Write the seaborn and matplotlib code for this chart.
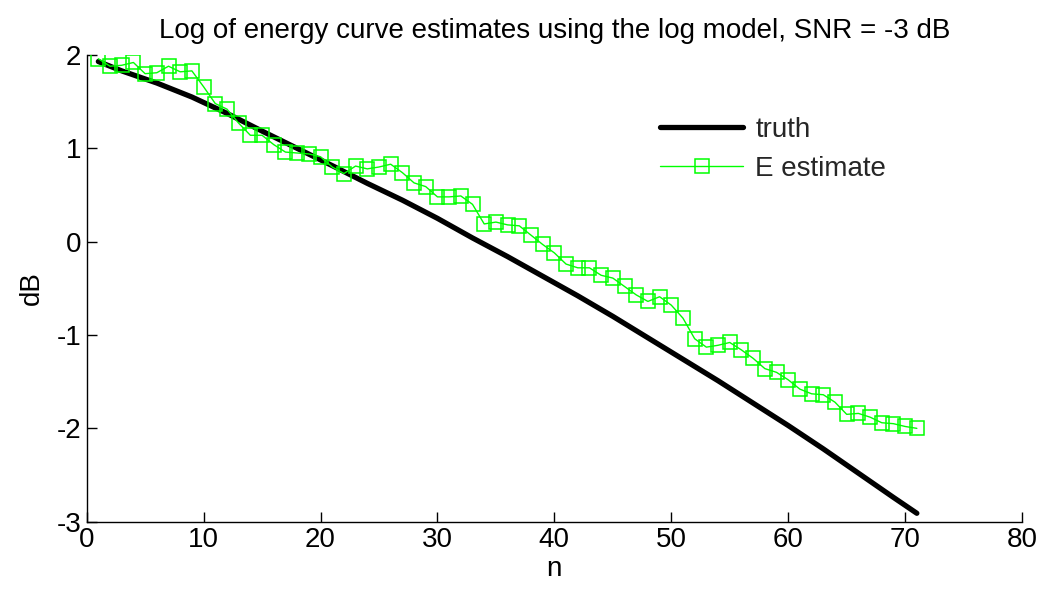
import numpy as np
import pandas as pd
import matplotlib
matplotlib.use("Agg")
import matplotlib.pyplot as plt
import seaborn as sns

# truth curve, read at a few n values
truth_n = [1, 3, 6, 9, 12, 15, 18, 21, 24, 27, 30, 33, 36, 39, 42, 45, 48,
           51, 54, 57, 60, 63, 66, 69, 71]
truth_db = [1.93, 1.83, 1.70, 1.55, 1.375, 1.185, 1.00, 0.815, 0.625, 0.445,
            0.25, 0.04, -0.16, -0.37, -0.58, -0.80, -1.03, -1.26, -1.49,
            -1.73, -1.97, -2.22, -2.48, -2.74, -2.91]

# E estimate, one value per n = 1..71
est_n = list(range(1, 72))
est_db = [1.96, 1.88, 1.89, 1.92, 1.80, 1.81, 1.88, 1.82, 1.83, 1.66,
          1.48, 1.42, 1.27, 1.14, 1.14, 1.04, 0.96, 0.95, 0.94, 0.91,
          0.80, 0.73, 0.81, 0.78, 0.80, 0.83, 0.74, 0.63, 0.59, 0.48,
          0.48, 0.49, 0.40, 0.19, 0.21, 0.18, 0.17, 0.07, -0.03, -0.12,
          -0.24, -0.28, -0.28, -0.36, -0.39, -0.48, -0.57, -0.64, -0.59, -0.68,
          -0.82, -1.04, -1.13, -1.11, -1.08, -1.16, -1.25, -1.36, -1.40, -1.48,
          -1.58, -1.63, -1.64, -1.72, -1.85, -1.84, -1.88, -1.94, -1.95, -1.98, -2.00]

x_ticks = [0, 10, 20, 30, 40, 50, 60, 70, 80]
y_ticks = [-3, -2, -1, 0, 1, 2]

sns.set_theme(style="white")
plt.rcParams['font.family'] = ['Liberation Sans', 'DejaVu Sans']
plt.rcParams['axes.unicode_minus'] = False
plt.rcParams['xtick.direction'] = 'in'
plt.rcParams['ytick.direction'] = 'in'

fig = plt.figure(figsize=(10.44, 5.96), dpi=100)
ax = fig.add_axes([0.083, 0.1247, 0.896, 0.783])

truth_df = pd.DataFrame({'n': truth_n, 'dB': truth_db})
est_df = pd.DataFrame({'n': est_n, 'dB': est_db})

sns.lineplot(data=truth_df, x='n', y='dB', ax=ax, color='black', linewidth=3.8,
             label='truth', solid_capstyle='round', solid_joinstyle='round')
sns.lineplot(data=est_df, x='n', y='dB', ax=ax, color='#00ff00', linewidth=1.0,
             marker='s', markersize=9.5, markerfacecolor='none',
             markeredgecolor='#00ff00', markeredgewidth=1.1, label='E estimate')

ax.set_xlim(0, 80)
ax.set_ylim(-3, 2)
ax.set_xticks(x_ticks)
ax.set_yticks(y_ticks)
ax.tick_params(axis='both', labelsize=20, length=7, width=1, color='black',
               labelcolor='black', pad=4, bottom=True, left=True)
for side in ['top', 'right']:
    ax.spines[side].set_visible(False)
for side in ['left', 'bottom']:
    ax.spines[side].set_color('black')
    ax.spines[side].set_linewidth(1)

ax.set_xlabel('n', fontsize=20, color='black', labelpad=2)
ax.set_ylabel('dB', fontsize=20, color='black', labelpad=8)
ax.set_title('Log of energy curve estimates using the log model, SNR = -3 dB',
             fontsize=20, color='black', pad=12)

leg = ax.legend(loc='upper left', bbox_to_anchor=(660 / 1044, 1 - 117 / 596),
                bbox_transform=fig.transFigure, frameon=False, fontsize=20,
                handlelength=3.0, handletextpad=0.43, labelspacing=0.47,
                borderpad=0, borderaxespad=0)

fig.savefig('out.png', dpi=100)
